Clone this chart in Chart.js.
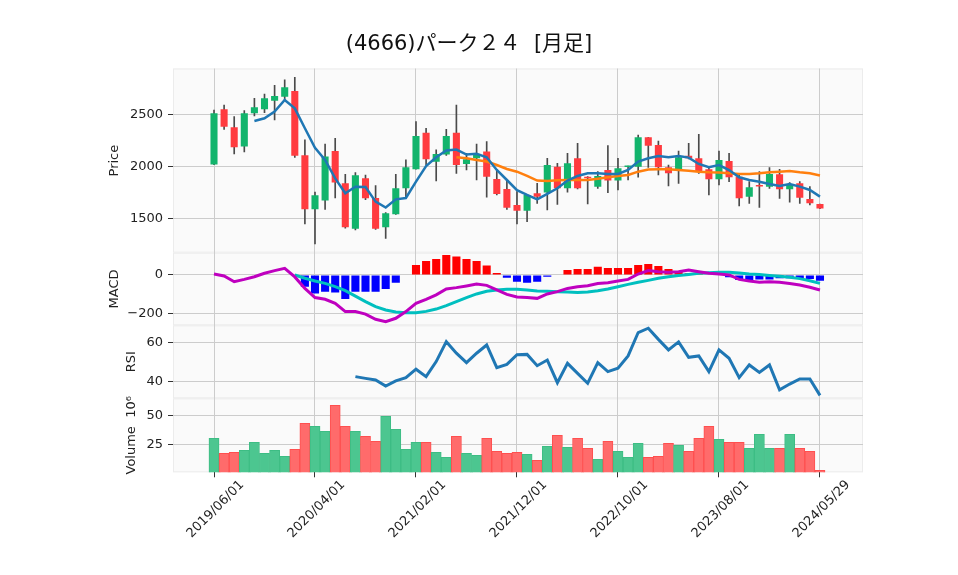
<!DOCTYPE html>
<html>
<head>
<meta charset="utf-8">
<script src="https://cdn.jsdelivr.net/npm/chart.js@4.4.1/dist/chart.umd.min.js"></script>
<style>
  html, body { margin: 0; padding: 0; background: #fff; }
</style>
</head>
<body>
<canvas id="chart" width="958" height="575"></canvas>
<script>
// monthly bars, index 0 = 2019/06/01 ... index 60 = 2024/05/29
const tickIdx = [0, 10, 20, 30, 40, 50, 60];
const tickLabels = ["2019/06/01", "2020/04/01", "2021/02/01", "2021/12/01", "2022/10/01", "2023/08/01", "2024/05/29"];

const opens  = [2016, 2548, 2375, 2189, 2509, 2548, 2631, 2669, 2724, 2105, 1586, 1670, 2147, 1836, 1400, 1884, 1695, 1413, 1538, 1788,
                1971, 2323, 2044, 2112, 2323, 2022, 2077, 2141, 1878, 1782, 1628, 1573, 1740, 1747, 1996, 1788, 2077, 1890, 1804, 1964,
                1862, 1994, 1996, 2279, 2205, 1990, 1971, 2102, 2077, 1971, 1875, 2051, 1900, 1708, 1806, 1804, 1923, 1778, 1836, 1686, 1637];
const highs  = [2541, 2589, 2477, 2535, 2653, 2695, 2778, 2830, 2855, 2253, 1753, 2214, 2269, 1923, 1939, 1916, 1814, 1555, 1923, 2061,
                2429, 2365, 2157, 2355, 2589, 2125, 2214, 2237, 1964, 1868, 1756, 1730, 1836, 2077, 2028, 2125, 2221, 1900, 1948, 2198,
                2077, 2003, 2301, 2279, 2243, 2012, 2147, 2221, 2307, 1996, 2147, 2125, 1932, 1852, 1948, 1987, 1971, 1843, 1852, 1804, 1637];
const lows   = [2015, 2355, 2118, 2137, 2484, 2516, 2445, 2637, 2086, 1445, 1253, 1586, 1695, 1405, 1388, 1680, 1394, 1307, 1538, 1692,
                1971, 2012, 1859, 2105, 1932, 1964, 1868, 1702, 1724, 1586, 1445, 1468, 1644, 1580, 1634, 1750, 1782, 1637, 1788, 1747,
                1772, 1868, 1894, 1990, 1916, 1811, 1836, 2070, 1932, 1724, 1820, 1852, 1618, 1644, 1605, 1788, 1692, 1654, 1644, 1628, 1593];
const closes = [2509, 2381, 2182, 2509, 2567, 2653, 2676, 2759, 2102, 1586, 1721, 2093, 1843, 1413, 1913, 1692, 1400, 1548, 1788, 1990,
                2291, 2067, 2118, 2291, 2012, 2067, 2118, 1900, 1734, 1602, 1573, 1724, 1708, 2012, 1788, 2028, 1788, 1885, 1907, 1862,
                1980, 2000, 2279, 2198, 1990, 1932, 2086, 2077, 1948, 1875, 2061, 1894, 1692, 1798, 1806, 1926, 1778, 1820, 1698, 1644, 1593];
// volume in millions
const volumes = [30.2, 17.2, 18.1, 19.8, 26.7, 17.2, 19.8, 14.7, 20.7, 43.1, 40.5, 36.2, 58.6, 40.5, 36.2, 31.9, 27.6, 49.1, 37.9, 20.7,
                 26.7, 26.7, 18.1, 13.8, 31.9, 17.2, 15.5, 30.2, 19.0, 17.2, 18.1, 16.4, 11.2, 23.3, 32.8, 22.4, 30.2, 21.6, 12.1, 27.6,
                 19.0, 13.8, 25.9, 13.8, 14.7, 25.9, 24.1, 19.0, 30.2, 40.5, 29.3, 26.7, 26.7, 21.6, 33.6, 21.6, 21.6, 33.6, 21.6, 19.0, 2.6];

const ma5  = [null, null, null, null, 2436, 2461, 2525, 2637, 2557, 2365, 2178, 2061, 1884, 1740, 1804, 1800, 1660, 1603, 1682, 1695,
              1852, 2003, 2086, 2152, 2160, 2113, 2120, 2086, 1964, 1868, 1770, 1724, 1682, 1734, 1788, 1862, 1907, 1932, 1932, 1926,
              1926, 1964, 2045, 2077, 2099, 2086, 2099, 2083, 2022, 1990, 2012, 1964, 1894, 1868, 1852, 1830, 1811, 1830, 1804, 1772, 1708];
const ma25 = [null, null, null, null, null, null, null, null, null, null, null, null, null, null, null, null, null, null, null, null,
              null, null, null, null, 2086, 2077, 2061, 2045, 2012, 1974, 1948, 1907, 1862, 1859, 1865, 1868, 1868, 1868, 1880, 1894,
              1907, 1916, 1948, 1968, 1971, 1971, 1964, 1958, 1948, 1942, 1939, 1932, 1926, 1926, 1932, 1942, 1948, 1955, 1942, 1932, 1912];

const macd   = [5, -5, -35, -23, -9, 9, 23, 35, -10, -70, -118, -127, -148, -191, -191, -204, -231, -244, -226, -191,
                -148, -127, -104, -73, -66, -57, -47, -54, -78, -101, -115, -118, -122, -99, -87, -70, -61, -56, -44, -40,
                -31, -23, 5, 23, 17, 14, 17, 26, 17, 9, 5, 0, -23, -31, -38, -35, -38, -44, -52, -64, -78];
const signal = [null, null, null, null, null, null, null, null, 0, -17, -31, -44, -61, -82, -110, -139, -165, -183, -193, -197,
                -197, -190, -178, -160, -139, -118, -99, -85, -78, -75, -75, -78, -84, -85, -87, -89, -91, -89, -82, -73,
                -61, -49, -38, -28, -17, -9, -3, 3, 9, 12, 14, 14, 10, 5, 2, -3, -7, -12, -19, -30, -44];
const hist   = [null, null, null, null, null, null, null, null, null, -61, -96, -87, -92, -125, -87, -87, -87, -73, -40, 0,
                52, 73, 84, 104, 96, 84, 73, 49, 10, -14, -35, -40, -35, -9, 0, 26, 31, 31, 43, 37,
                37, 37, 52, 57, 47, 31, 17, 9, 5, -3, -3, -12, -26, -26, -23, -23, -17, -17, -21, -21, -30];

const rsi = [null, null, null, null, null, null, null, null, null, null, null, null, null, null, 42.4, 41.5, 40.7, 37.6, 40.2, 41.9,
             46.2, 42.4, 50.1, 60.3, 54.4, 49.6, 54.4, 58.6, 47.0, 48.7, 53.6, 53.8, 48.0, 50.9, 39.3, 49.2, 44.1, 39.0, 49.6, 45.0,
             46.7, 53.0, 65.0, 67.2, 61.5, 56.1, 60.2, 52.3, 53.0, 45.0, 56.1, 51.8, 41.9, 48.4, 44.6, 48.4, 35.6, 38.6, 41.2, 41.2, 32.8];

const UP = "#12b46c", DOWN = "#ff3b3f";
const VOL_UP = "#4cc690", VOL_DOWN = "#ff6b6b";
const FONT = "'DejaVu Sans', sans-serif";

const pts = arr => arr.map((v, i) => ({ x: i, y: v }));

function yAxis(weight, min, max, ticks, title, titlePad, fmt) {
  return {
    type: "linear",
    position: "left",
    stack: "panels",
    stackWeight: weight,
    min: min,
    max: max,
    border: { display: false },
    grid: { color: "#cccccc", tickColor: "#333", tickLength: 5, lineWidth: 1 },
    ticks: { color: "#222", font: { family: FONT, size: 13 }, padding: 5, callback: fmt || (v => String(v)) },
    afterBuildTicks: s => { s.ticks = ticks.map(v => ({ value: v })); },
    afterFit: s => { s.width = 173; },
    title: { display: true, text: title, color: "#222", font: { family: FONT, size: 13 }, padding: { top: titlePad, bottom: 0 } }
  };
}

const panelBg = {
  id: "panelBg",
  beforeDraw(chart) {
    const { ctx, chartArea } = chart;
    ctx.save();
    ["yPrice", "yMacd", "yRsi", "yVol"].forEach(id => {
      const s = chart.scales[id];
      ctx.fillStyle = "#fafafa";
      ctx.fillRect(chartArea.left, s.top, chartArea.right - chartArea.left, s.bottom - s.top);
      ctx.strokeStyle = "#ececec";
      ctx.lineWidth = 1;
      ctx.strokeRect(chartArea.left + 0.5, s.top + 0.5, chartArea.right - chartArea.left - 1, s.bottom - s.top - 1);
    });
    ctx.restore();
  }
};

const titlePlugin = {
  id: "bigTitle",
  afterDraw(chart) {
    const ctx = chart.ctx;
    ctx.save();
    ctx.fillStyle = "#111";
    ctx.font = "21px 'DejaVu Sans', 'Noto Sans CJK JP', sans-serif";
    ctx.textAlign = "center";
    ctx.textBaseline = "middle";
    ctx.fillText("(4666)パーク２４  [月足]", 469, 45);
    ctx.restore();
  }
};

new Chart(document.getElementById("chart"), {
  type: "bar",
  data: {
    datasets: [
      { type: "line", label: "MA5", data: pts(ma5), yAxisID: "yPrice", borderColor: "#1f77b4", borderWidth: 2.5, pointRadius: 0, order: 0 },
      { type: "line", label: "MA25", data: pts(ma25), yAxisID: "yPrice", borderColor: "#ff7f0e", borderWidth: 2.5, pointRadius: 0, order: 0 },
      { label: "body", data: opens.map((o, i) => ({ x: i, y: [o, closes[i]] })), yAxisID: "yPrice", grouped: false,
        backgroundColor: opens.map((o, i) => closes[i] > o ? UP : DOWN), barPercentage: 0.7, categoryPercentage: 1, minBarLength: 1.5, order: 1 },
      { label: "wick", data: lows.map((l, i) => ({ x: i, y: [l, highs[i]] })), yAxisID: "yPrice", grouped: false,
        backgroundColor: "#4a4a4a", barThickness: 1, order: 2 },
      { type: "line", label: "MACD", data: pts(macd), yAxisID: "yMacd", borderColor: "#bf00bf", borderWidth: 3, pointRadius: 0, order: 0 },
      { type: "line", label: "Signal", data: pts(signal), yAxisID: "yMacd", borderColor: "#00bfbf", borderWidth: 3, pointRadius: 0, order: 0 },
      { label: "hist", data: pts(hist), yAxisID: "yMacd", grouped: false,
        backgroundColor: hist.map(v => v >= 0 ? "#ff0000" : "#0000ff"), barPercentage: 0.8, categoryPercentage: 1, order: 1 },
      { type: "line", label: "RSI", data: pts(rsi), yAxisID: "yRsi", borderColor: "#1f77b4", borderWidth: 3, pointRadius: 0, order: 0 },
      { label: "Volume", data: pts(volumes), yAxisID: "yVol", grouped: false,
        backgroundColor: volumes.map((v, i) => closes[i] >= opens[i] ? VOL_UP : VOL_DOWN),
        borderColor: volumes.map((v, i) => closes[i] >= opens[i] ? "#3dbd84" : "#ff4f4f"),
        borderWidth: 1, barPercentage: 1, categoryPercentage: 1, order: 1 }
    ]
  },
  options: {
    responsive: false,
    animation: false,
    devicePixelRatio: 1,
    layout: { padding: { top: 68.5, right: 95, bottom: 0, left: 0 } },
    plugins: { legend: { display: false }, tooltip: { enabled: false } },
    scales: {
      x: {
        type: "linear",
        min: -4.06,
        max: 64.26,
        offset: false,
        border: { display: false },
        grid: { color: "#cccccc", tickColor: "#333", tickLength: 5, offset: false },
        afterBuildTicks: s => { s.ticks = tickIdx.map(v => ({ value: v })); },
        afterFit: s => { s.height = 102.7; },
        ticks: {
          autoSkip: false, maxRotation: 45, minRotation: 45, labelOffset: 28, padding: 0,
          color: "#222", font: { family: FONT, size: 13 },
          callback: (v, i) => tickLabels[i]
        }
      },
      // stacked left axes are laid out bottom-up: last one defined sits on top
      yVol: yAxis(74, 0.9, 64.7, [25, 50], "Volume  10\u2076", 124),
      yRsi: yAxis(73, 31.3, 68.7, [40, 60], "RSI", 124),
      yMacd: yAxis(72.6, -262.7, 116.4, [-200, 0], "MACD", 107, v => v < 0 ? "\u2212" + Math.abs(v) : String(v)),
      yPrice: yAxis(184.2, 1169, 2940, [1500, 2000, 2500], "Price", 107)
    }
  },
  plugins: [panelBg, titlePlugin]
});
</script>
</body>
</html>
